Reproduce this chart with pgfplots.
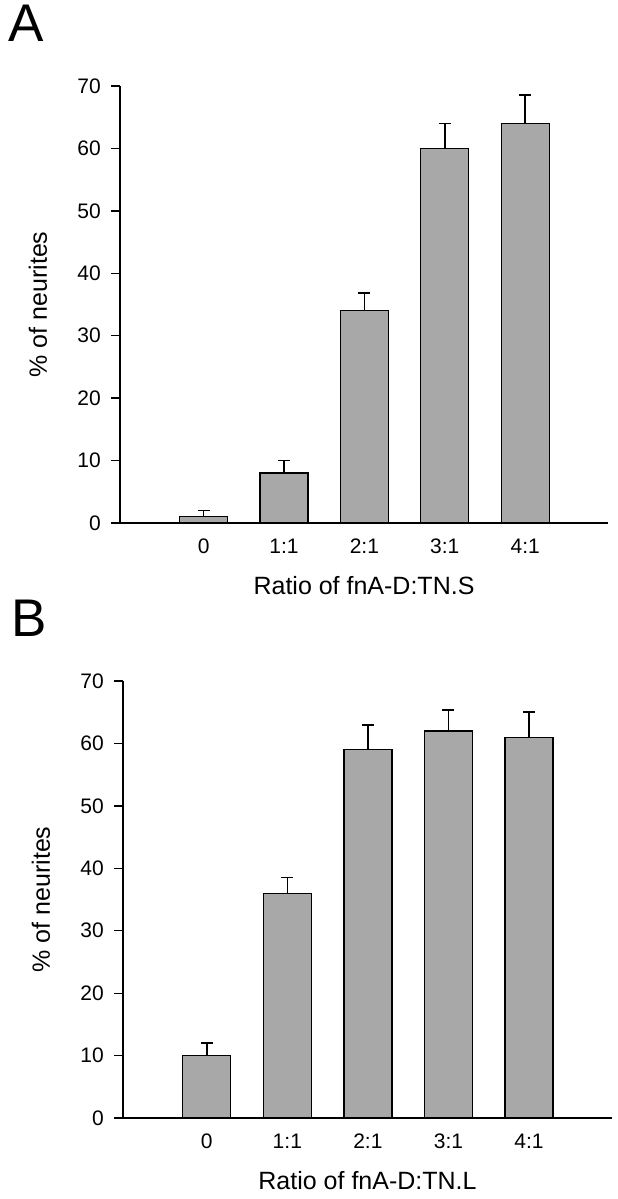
\documentclass[border=0pt]{standalone}
\usepackage{fontspec}
\setmainfont{Liberation Sans}
\usepackage{pgfplots}
\pgfplotsset{compat=1.18}
\definecolor{barfill}{HTML}{A8A8A8}
\pgfplotsset{
  panel/.style={
    scale only axis, height=437pt,
    xmin=-1.04, xmax=5.03, ymin=0, ymax=70,
    axis x line=bottom, axis y line=left,
    axis line style={-, line width=1.3pt, black},
    ytick={0,10,...,70},
    xtick={0,1,2,3,4}, xticklabels={0,1:1,2:1,3:1,4:1},
    x tick style={draw=none},
    y tick style={line width=1.3pt, black},
    tick align=outside, major tick length=9pt,
    /pgf/number format/assume math mode=true,
    yticklabel style={font=\fontsize{21}{21}\selectfont, inner sep=0pt, anchor=east, xshift=-10pt},
    xticklabel style={font=\fontsize{21}{21}\selectfont, inner sep=0pt, anchor=north, text height=15pt, text depth=0pt, yshift=-6pt},
    ylabel={\% of neurites},
    every axis y label/.style={at={(rel axis cs:0,0.5)}, xshift=-82pt, rotate=90, anchor=center, font=\fontsize{25}{25}\selectfont},
    every axis x label/.style={at={(rel axis cs:0.5,0)}, yshift=-53pt, anchor=north, inner sep=0pt, font=\fontsize{25}{25}\selectfont},
    ybar, bar width=48pt,
    error bars/y dir=plus, error bars/y explicit,
    error bars/error bar style={line width=1.6pt, black},
    error bars/error mark options={rotate=90, mark size=6pt, line width=1.6pt, black},
  },
  bars/.style={fill=barfill, draw=black, line width=1.3pt}
}
\begin{document}
\begin{tikzpicture}
\path[use as bounding box] (0,0) rectangle (618pt,-1199pt);
\node[anchor=north west, inner sep=0pt, font=\fontsize{53}{53}\selectfont] at (8pt,-5pt) {A};
\node[anchor=north west, inner sep=0pt, font=\fontsize{53}{53}\selectfont] at (11pt,-600pt) {B};
\begin{axis}[panel, width=488pt, at={(120pt,-523pt)}, anchor=south west,
  xlabel={Ratio of fnA-D:TN.S}]
\addplot[bars] coordinates {
  (0,1) +- (0,1)
  (1,8) +- (0,2)
  (2,34) +- (0,2.8)
  (3,60) +- (0,4)
  (4,64) +- (0,4.6)
};
\end{axis}
\begin{axis}[panel, width=489pt, at={(123pt,-1118pt)}, anchor=south west,
  xlabel={Ratio of fnA-D:TN.L}]
\addplot[bars] coordinates {
  (0,10) +- (0,2)
  (1,36) +- (0,2.5)
  (2,59) +- (0,4)
  (3,62) +- (0,3.4)
  (4,61) +- (0,4)
};
\end{axis}
\end{tikzpicture}
\end{document}
